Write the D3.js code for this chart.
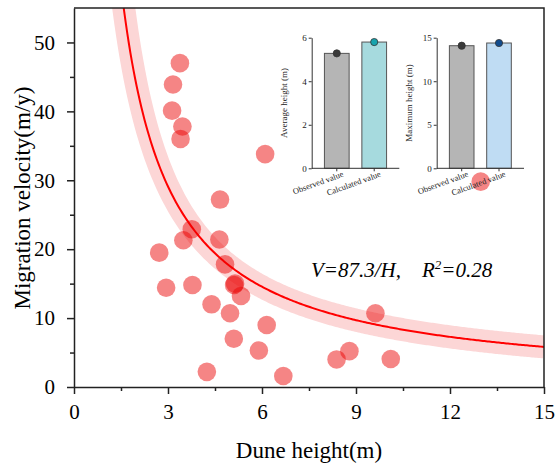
<!DOCTYPE html>
<html>
<head>
<meta charset="utf-8">
<script src="https://cdn.jsdelivr.net/npm/d3@7"></script>
<style>
  body { margin: 0; background: #fff; }
  text { font-family: "Liberation Serif", "Times New Roman", serif; }
</style>
</head>
<body>
<script>
const width = 558;
const height = 469;

// dune height (m) vs migration velocity (m/y)
const duneHeight = [3.38, 3.16, 3.13, 3.46, 3.40, 6.10, 4.66, 3.76, 3.49, 4.64, 2.72, 4.82,
  5.14, 5.11, 5.33, 2.94, 3.78, 4.39, 4.98, 6.15, 5.10, 5.90, 4.24, 6.68, 9.62, 8.79,
  8.38, 10.11, 12.98];
const velocity = [47.0, 43.9, 40.1, 37.8, 36.0, 33.8, 27.2, 22.9, 21.3, 21.4, 19.5, 17.8,
  15.0, 14.8, 13.2, 14.4, 14.8, 12.0, 10.7, 9.0, 7.0, 5.3, 2.2, 1.6, 10.7, 5.2,
  4.0, 4.06, 29.8];
const fitCoef = 87.3;
const fitH = d3.range(1.2, 15.05, 0.05);

const xTicks = [0, 3, 6, 9, 12, 15];
const yTicks = [0, 10, 20, 30, 40, 50];

// insets
const insetCats = ["Observed value", "Calculated value"];
const avgHeight = [5.28, 5.80];
const maxHeight = [14.08, 14.39];

const svg = d3.select("body").append("svg")
  .attr("width", width).attr("height", height);

const x = d3.scaleLinear().domain([0, 15]).range([74, 544]);
const y = d3.scaleLinear().domain([0, 55]).range([387, 8]);

svg.append("clipPath").attr("id", "plot")
  .append("rect").attr("x", 74).attr("y", 8).attr("width", 470).attr("height", 379);

const plot = svg.append("g").attr("clip-path", "url(#plot)");

const line = d3.line().x((h) => x(h)).y((h) => y(fitCoef / h));

plot.append("path").datum(fitH)
  .attr("d", line).attr("fill", "none")
  .attr("stroke", "#fcd6d6").attr("stroke-width", 23);

plot.append("path").datum(fitH)
  .attr("d", line).attr("fill", "none")
  .attr("stroke", "#ff0000").attr("stroke-width", 2);

plot.selectAll("circle").data(duneHeight).join("circle")
  .attr("cx", (d) => x(d))
  .attr("cy", (d, i) => y(velocity[i]))
  .attr("r", 9.3)
  .attr("fill", "#ea0000")
  .attr("fill-opacity", 0.48);

// axes
svg.append("g").attr("transform", "translate(0,387)")
  .call(d3.axisBottom(x).tickValues(xTicks).tickSize(7).tickSizeOuter(0).tickPadding(10));
svg.append("g").attr("transform", "translate(0,387)")
  .call(d3.axisBottom(x).tickValues(d3.range(1.5, 15, 3)).tickSize(4).tickFormat(""))
  .select(".domain").remove();
svg.append("g").attr("transform", "translate(74,0)")
  .call(d3.axisLeft(y).tickValues(yTicks).tickSize(7).tickSizeOuter(0).tickPadding(12));
svg.append("g").attr("transform", "translate(74,0)")
  .call(d3.axisLeft(y).tickValues(d3.range(5, 55, 10)).tickSize(4).tickFormat(""))
  .select(".domain").remove();

svg.selectAll(".tick text")
  .style("font-size", "21px")
  .style("font-family", "'Liberation Serif', serif")
  .attr("fill", "#000");
svg.selectAll(".domain, .tick line").attr("stroke", "#222").attr("stroke-width", 1.5);

// frame
svg.append("path").attr("d", "M74,8H544V387")
  .attr("fill", "none").attr("stroke", "#222").attr("stroke-width", 1.5);

svg.append("text").attr("x", 309).attr("y", 458)
  .attr("text-anchor", "middle").attr("font-size", 23)
  .text("Dune height(m)");

svg.append("text")
  .attr("transform", "translate(30,198) rotate(-90)")
  .attr("text-anchor", "middle").attr("font-size", 23)
  .text("Migration velocity(m/y)");

svg.append("text").attr("x", 311).attr("y", 277)
  .attr("font-size", 21).attr("font-style", "italic")
  .text("V=87.3/H,");
const r2 = svg.append("text").attr("x", 422).attr("y", 277)
  .attr("font-size", 21).attr("font-style", "italic");
r2.append("tspan").text("R");
r2.append("tspan").attr("font-size", 13).attr("dy", -8).text("2");
r2.append("tspan").attr("dy", 8).text("=0.28");

function inset(left, right, values, maxV, ticks, label, colour, dotColour) {
  const g = svg.append("g");
  const ix = d3.scaleBand().domain(insetCats).range([left, right]).padding(0.34);
  const iy = d3.scaleLinear().domain([0, maxV]).range([168.3, 37.7]);

  g.selectAll("rect").data(values).join("rect")
    .attr("x", (d, i) => ix(insetCats[i]))
    .attr("y", (d) => iy(d))
    .attr("width", ix.bandwidth())
    .attr("height", (d) => iy(0) - iy(d))
    .attr("fill", (d, i) => (i === 0 ? "#b5b5b5" : colour))
    .attr("stroke", "#555").attr("stroke-width", 1);

  g.selectAll("circle").data(values).join("circle")
    .attr("cx", (d, i) => ix(insetCats[i]) + ix.bandwidth() / 2)
    .attr("cy", (d) => iy(d))
    .attr("r", 3.6)
    .attr("fill", (d, i) => (i === 0 ? "#3a3a3a" : dotColour))
    .attr("stroke", "#333").attr("stroke-width", 0.8);

  const ax = g.append("g").attr("transform", `translate(${left},0)`)
    .call(d3.axisLeft(iy).tickValues(ticks).tickFormat(d3.format("d"))
      .tickSize(3).tickSizeOuter(0).tickPadding(2));
  ax.selectAll("text").style("font-size", "9px");

  const bx = g.append("g").attr("transform", "translate(0,168.3)")
    .call(d3.axisBottom(ix).tickSize(3).tickSizeOuter(0));
  bx.selectAll("text")
    .style("font-size", "8.5px")
    .attr("text-anchor", "end")
    .attr("dy", 0)
    .attr("y", 10)
    .attr("x", 4)
    .attr("transform", "rotate(-20)");
  bx.select(".domain").attr("d", `M${left},0H${right}`);

  g.selectAll(".domain, .tick line").attr("stroke", "#333").attr("stroke-width", 1);
  g.selectAll(".tick text").attr("fill", "#222");

  g.append("text")
    .attr("transform", `translate(${left - 25},${(37.7 + 168.3) / 2}) rotate(-90)`)
    .attr("text-anchor", "middle").attr("font-size", 9).attr("fill", "#222")
    .text(label);
}

inset(311.7, 399.3, avgHeight, 6, [0, 2, 4, 6], "Average height (m)", "#a6dade", "#17a3ad");
inset(436.7, 524, maxHeight, 15, [0, 5, 10, 15], "Maximum height (m)", "#bfdcf3", "#114c8e");
</script>
</body>
</html>
